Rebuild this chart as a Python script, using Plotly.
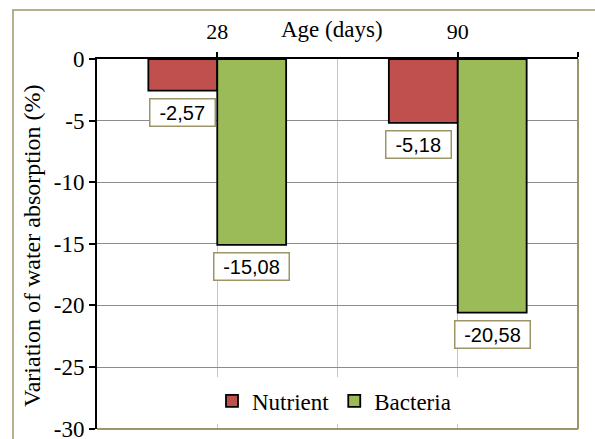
import plotly.graph_objects as go

ages = ["28", "90"]
nutrient = [-2.57, -5.18]
bacteria = [-15.08, -20.58]
series_names = ["Nutrient", "Bacteria"]
y_ticks = [0, -5, -10, -15, -20, -25, -30]

RED = "#C0504D"
GREEN = "#9BBB59"
OLIVE = "#9D9567"
SERIF = "Liberation Serif, Times New Roman, serif"
SANS = "Liberation Sans, Arial, sans-serif"

W, H = 595, 439
ML, MT, MR, MB = 97, 59, 17, 10
BARGAP = 0.427
xpos = list(range(len(ages)))
bw = (1 - BARGAP) / 2

fig = go.Figure()
fig.add_trace(go.Bar(x=xpos, y=nutrient, name=series_names[0],
                     marker=dict(color=RED, line=dict(color="black", width=1.8))))
fig.add_trace(go.Bar(x=xpos, y=bacteria, name=series_names[1],
                     marker=dict(color=GREEN, line=dict(color="black", width=1.8))))

def fmt(v):
    return f"{v:.2f}".replace(".", ",")

annotations = []
for k, vals in enumerate([nutrient, bacteria]):
    off = (-0.5 + k) * bw
    for i, v in enumerate(vals):
        t = fmt(v)
        annotations.append(dict(
            x=xpos[i] + off, y=v, xref="x", yref="y", text=t, showarrow=False,
            xanchor="center", yanchor="top", yshift=-7,
            xshift=-5 if (k == 0 and i == 1) else 0,
            font=dict(family=SANS, size=20, color="black"),
            bgcolor="white", bordercolor=OLIVE, borderwidth=1.5, borderpad=2,
            width=len(t) * 10.5 + 7, align="center"))

pw = W - ML - MR
ph = H - MT - MB

annotations.append(dict(x=(332 - ML) / pw, y=(H - MB - 30) / ph,
                        xref="paper", yref="paper", text="Age (days)", showarrow=False,
                        xanchor="center", yanchor="middle",
                        font=dict(family=SERIF, size=23, color="black")))
annotations.append(dict(x=(32 - ML) / pw, y=(H - MB - 246) / ph,
                        xref="paper", yref="paper", text="Variation of water absorption (%)",
                        showarrow=False, textangle=-90,
                        xanchor="center", yanchor="middle",
                        font=dict(family=SERIF, size=24, color="black")))

shapes = [
    # legend background
    dict(type="rect", xref="paper", yref="paper",
         x0=(205 - ML) / pw, x1=(470 - ML) / pw, y0=(H - MB - 424) / ph, y1=(H - MB - 377) / ph,
         fillcolor="white", line=dict(width=0), layer="above"),
    # plot area right/bottom border
    dict(type="line", xref="paper", yref="paper", x0=0, x1=1, y0=0, y1=0,
         line=dict(color=OLIVE, width=2), layer="above"),
    dict(type="line", xref="paper", yref="paper", x0=1, x1=1, y0=0, y1=1,
         line=dict(color=OLIVE, width=2), layer="above"),
    # outer chart border
    dict(type="rect", xref="paper", yref="paper",
         x0=(13 - ML) / pw, x1=1.2, y0=-0.2, y1=(H - MB - 10) / ph,
         line=dict(color=OLIVE, width=1.5), fillcolor="rgba(0,0,0,0)", layer="above"),
]

fig.update_layout(
    width=W, height=H,
    margin=dict(l=ML, r=MR, t=MT, b=MB, autoexpand=False),
    paper_bgcolor="white", plot_bgcolor="white",
    barmode="group", bargap=BARGAP, bargroupgap=0,
    showlegend=True,
    legend=dict(orientation="h", x=(334 - ML) / pw, xanchor="center",
                y=(H - MB - 401) / ph, yanchor="middle",
                bgcolor="rgba(0,0,0,0)", font=dict(family=SERIF, size=23, color="black"),
                itemwidth=30, tracegroupgap=0),
    annotations=annotations,
    shapes=shapes,
    xaxis=dict(
        range=[-0.5, 1.5], side="top", tickmode="array",
        tickvals=xpos + [1.5], ticktext=ages + [""],
        ticks="outside", ticklen=5, tickcolor="black", tickwidth=1.5,
        showline=True, linecolor="black", linewidth=2,
        showgrid=True, gridcolor="#C4C4C4", gridwidth=1.2,
        minor=dict(tickvals=[0.5], showgrid=True, gridcolor="#C4C4C4", gridwidth=1.2, ticks=""),
        zeroline=False, ticklabelstandoff=4,
        tickfont=dict(family=SERIF, size=22, color="black"),
        fixedrange=True,
    ),
    yaxis=dict(
        range=[-30.03, 0], tickmode="array", tickvals=y_ticks,
        ticktext=[str(v) for v in y_ticks],
        ticks="outside", ticklen=6, tickcolor="black", tickwidth=1.5,
        showline=True, linecolor="black", linewidth=2,
        showgrid=True, gridcolor="#8C8C8C", gridwidth=1.2,
        zeroline=False, ticklabeloverflow="allow",
        tickfont=dict(family=SERIF, size=23, color="black"),
        fixedrange=True,
    ),
)

fig.write_html("out.html", config={"displayModeBar": False},
               post_script="document.body.style.margin='0';document.body.style.padding='0';")
